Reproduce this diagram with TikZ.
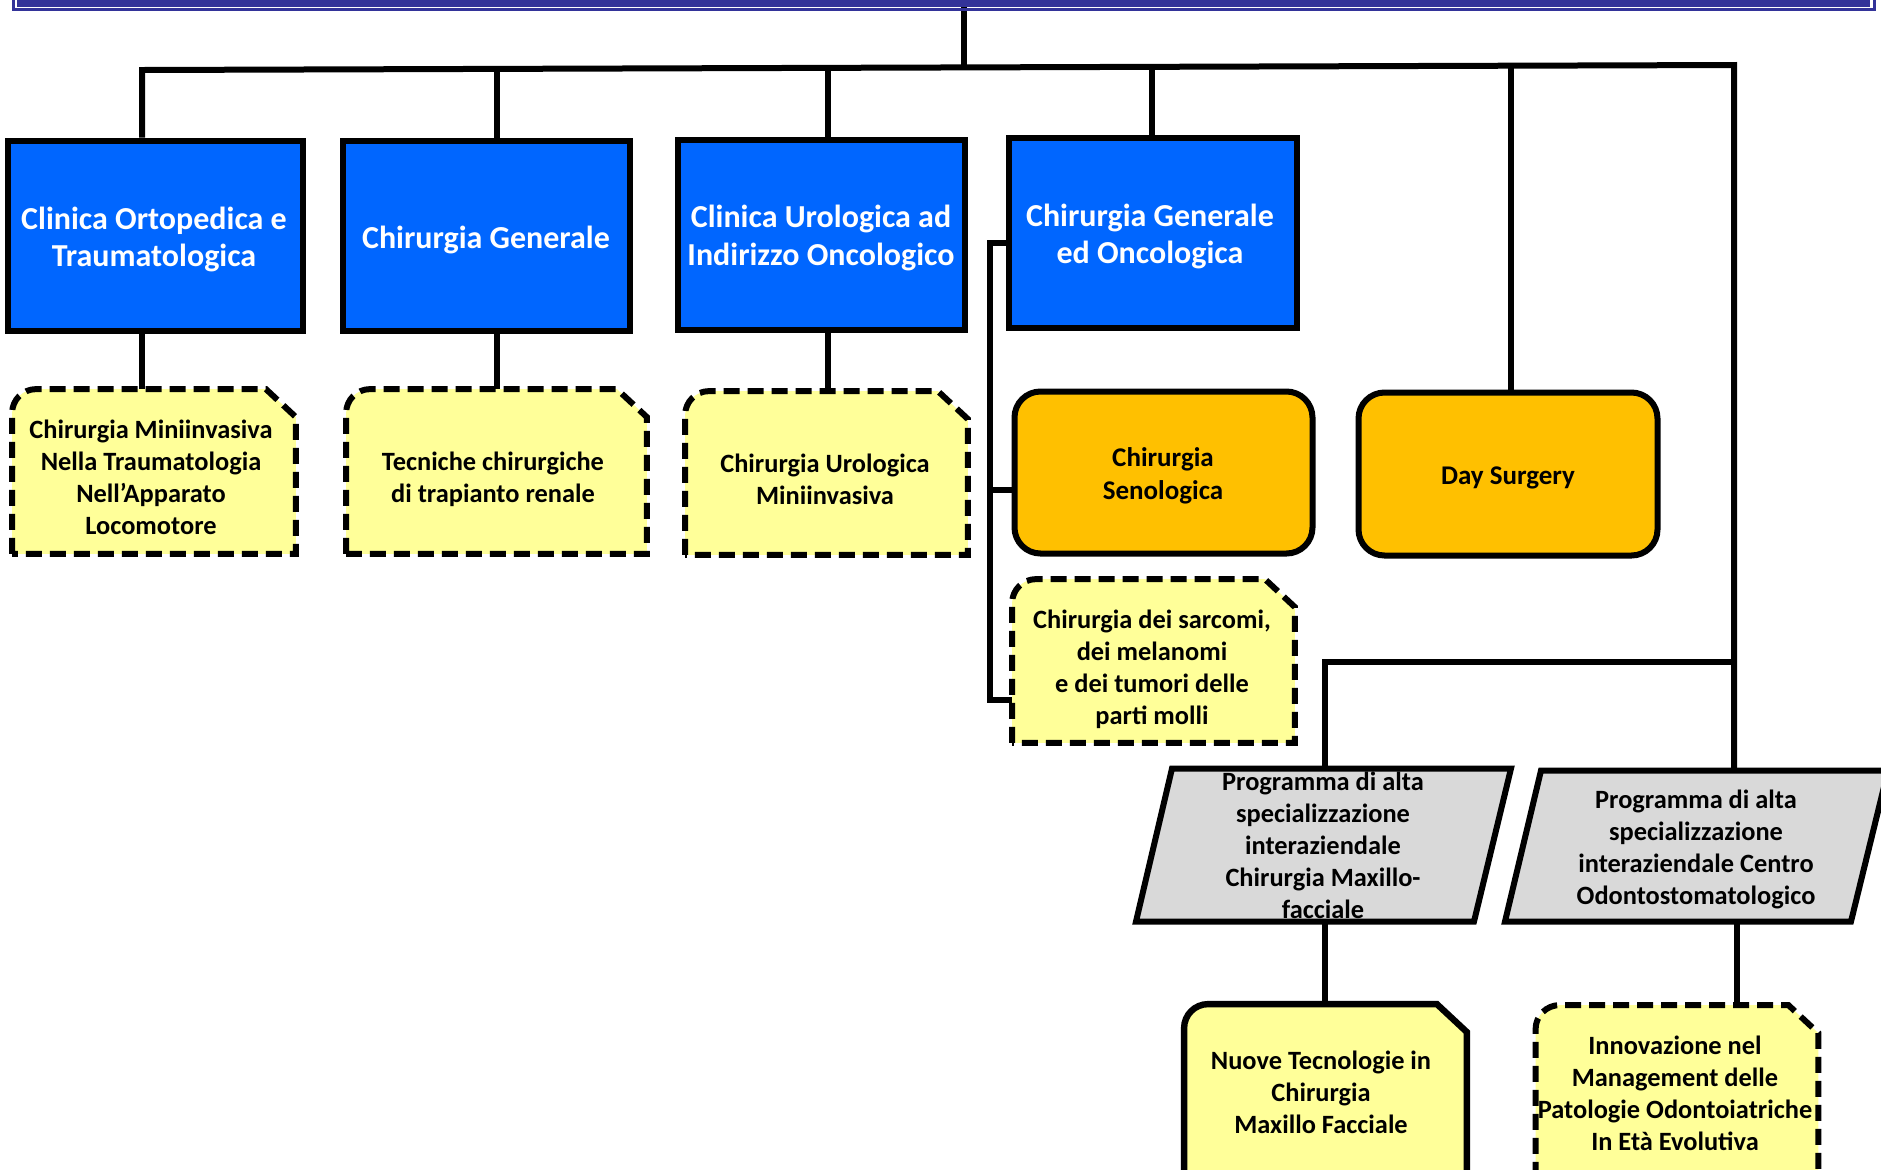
\documentclass[tikz,border=0pt]{standalone}
\usepackage{fontspec}
\setmainfont{Carlito}
\usetikzlibrary{backgrounds,calc}
\definecolor{boxblue}{HTML}{0066FF}
\definecolor{indigo}{HTML}{333399}
\definecolor{paleyellow}{HTML}{FFFF99}
\definecolor{amber}{HTML}{FFC000}
\definecolor{palegray}{HTML}{D9D9D9}
\begin{document}
\begin{tikzpicture}[x=0.5pt,y=-0.5pt,
  conn/.style={draw=black,line width=3pt,line join=miter},
  bluebox/.style={rectangle,fill=boxblue,draw=black,line width=3pt,inner sep=0pt},
  bluetext/.style={rectangle,inner sep=0pt,align=center,text=white,font={\bfseries\fontsize{16pt}{18.75pt}\selectfont}},
  orangebox/.style={rectangle,rounded corners=13pt,fill=amber,draw=black,line width=3pt,inner sep=0pt},
  otext/.style={rectangle,inner sep=0pt,align=center,text=black,font={\bfseries\fontsize{13.5pt}{16.8pt}\selectfont}},
  ytext/.style={rectangle,inner sep=0pt,align=center,text=black,font={\bfseries\fontsize{13.2pt}{16pt}\selectfont}},
  snipframe/.style={rectangle,inner sep=0pt},
  snipdash/.style={fill=paleyellow,draw=black,line width=3pt,dash pattern=on 8pt off 4pt,line join=miter},
  snipsolid/.style={fill=paleyellow,draw=black,line width=3.2pt,line join=miter},
  paral/.style={fill=palegray,draw=black,line width=3pt,line join=miter}
]
\useasboundingbox (0,0) rectangle (1881,1169);
\clip (0,0) rectangle (1881,1169);

% top box (cut off)
\node[fill=indigo,inner sep=0pt,minimum width=926.5pt,minimum height=56.5pt] (topbox) at (943.5,-50) {};
\draw[indigo,line width=1.3pt] (13.5,-30) -- (13.5,9.5) -- (1874.5,9.5) -- (1874.5,-30);

% blue boxes
\node[bluebox,minimum width=147.5pt,minimum height=95pt] (b1) at (155,235.5) {};
\node[bluebox,minimum width=143.5pt,minimum height=95pt] (b2) at (486,235.5) {};
\node[bluebox,minimum width=143.5pt,minimum height=95pt] (b3) at (821,234.5) {};
\node[bluebox,minimum width=144pt,minimum height=95pt] (b4) at (1152.5,232.5) {};
\node[bluetext] (b1t) at (154,239.5) {Clinica Ortopedica e\\Traumatologica};
\node[bluetext] (b2t) at (486,239.5) {Chirurgia Generale};
\node[bluetext] (b3t) at (821,238) {Clinica Urologica ad\\Indirizzo Oncologico};
\node[bluetext] (b4t) at (1150,236.5) {Chirurgia Generale\\ed Oncologica};

% orange boxes
\node[orangebox,minimum width=149pt,minimum height=81pt] (sen) at (1163.5,472.5) {};
\node[orangebox,minimum width=149.5pt,minimum height=81.5pt] (day) at (1508,474) {};
\node[otext] (sent) at (1163,476) {Chirurgia\\Senologica};
\node[otext] (dayt) at (1508,477.5) {Day Surgery};

% frames of snipped boxes
\node[snipframe,minimum width=141.5pt,minimum height=82pt] (y1) at (154,471.5) {};
\node[snipframe,minimum width=150pt,minimum height=82pt] (y2) at (496.5,471.5) {};
\node[snipframe,minimum width=141pt,minimum height=81.5pt] (y3) at (826.5,473) {};
\node[snipframe,minimum width=141pt,minimum height=81.5pt] (sarc) at (1153.5,661) {};
\node[snipframe,minimum width=141pt,minimum height=86.5pt] (nuove) at (1325.5,1091) {};
\node[snipframe,minimum width=141pt,minimum height=86pt] (innov) at (1677,1091.5) {};

% texts of snipped boxes
\node[ytext] (y1t) at (151,477) {Chirurgia Miniinvasiva\\Nella Traumatologia\\Nell’Apparato\\Locomotore};
\node[ytext] (y2t) at (493,479) {Tecniche chirurgiche\\di trapianto renale};
\node[ytext] (y3t) at (825,479) {Chirurgia Urologica\\Miniinvasiva};
\node[ytext] (sarct) at (1152,669) {Chirurgia dei sarcomi,\\dei melanomi\\e dei tumori delle\\parti molli};
\node[ytext] (nuovet) at (1321,1092) {Nuove Tecnologie in\\Chirurgia\\Maxillo Facciale};
\node[ytext] (innovt) at (1675,1093) {Innovazione nel\\Management delle\\Patologie Odontoiatriche\\In Età Evolutiva};

% texts of parallelograms
\node[ytext] (maxp) at (1323,845.5) {Programma di alta\\specializzazione\\interaziendale\\Chirurgia Maxillo-\\facciale};
\node[ytext] (odop) at (1696,849.5) {Programma di alta\\specializzazione\\interaziendale Centro\\Odontostomatologico};

% connector points
\coordinate (busL) at (142,70);
\coordinate (busR) at (1734,65);
\coordinate (t0) at (964,67.4);
\coordinate (d2) at (497,68.9);
\coordinate (d3) at (828,67.8);
\coordinate (d4) at (1152,66.8);
\coordinate (d5) at (1511,65.7);
\coordinate (brk) at (990,243);
\coordinate (brks) at (990,490);
\coordinate (brkb) at (990,700);
\coordinate (br) at (1734,662);
\coordinate (maxtop) at (1325,768.5);
\coordinate (maxbot) at (1325,921.5);
\coordinate (odotop) at (1734,770.5);
\coordinate (odobot) at (1737,921.5);

\begin{pgfonlayer}{background}
\fill[white] (0,0) rectangle (1881,1169);
% connectors
\draw[conn] (topbox.south -| t0) -- (t0);
\draw[conn] (b1.north -| busL) -- (busL) -- (busR) -- (odotop);
\draw[conn] (d2) -- (d2 |- b2.north);
\draw[conn] (d3) -- (d3 |- b3.north);
\draw[conn] (d4) -- (d4 |- b4.north);
\draw[conn] (d5) -- (d5 |- day.north);
\draw[conn] (b1.south -| busL) -- (busL |- y1.north);
\draw[conn] (b2.south -| d2) -- (d2 |- y2.north);
\draw[conn] (b3.south -| d3) -- (d3 |- y3.north);
\draw[conn] (b4.west |- brk) -- (brk) -- (brkb) -- (brkb -| sarc.west);
\draw[conn] (brks) -- (brks -| sen.west);
\draw[conn] (br) -- (br -| maxtop) -- (maxtop);
\draw[conn] (maxbot) -- (maxbot |- nuove.north);
\draw[conn] (odobot) -- (odobot |- innov.north);
% snipped boxes
\foreach \n/\s in {y1/snipdash,y2/snipdash,y3/snipdash,sarc/snipdash,nuove/snipsolid,innov/snipdash}{
  \path[\s] (\n.south west) -- ([yshift=-12pt]\n.north west)
    arc[start angle=180,end angle=90,radius=12pt]
    -- ([xshift=-15pt]\n.north east) -- ([yshift=-14pt]\n.north east)
    -- (\n.south east) -- cycle;
}
% parallelograms
\path[paral] (1172,768.5) -- (1511,768.5) -- (1474,921.5) -- (1136,921.5) -- cycle;
\path[paral] (1541,770.5) -- (1888,770.5) -- (1851,921.5) -- (1505,921.5) -- cycle;
\end{pgfonlayer}
\end{tikzpicture}
\end{document}
